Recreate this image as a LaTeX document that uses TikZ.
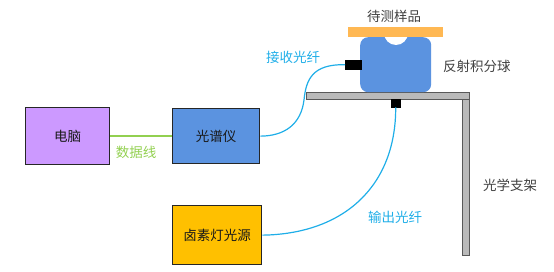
\documentclass[tikz,border=0pt]{standalone}
\usepackage{fontspec}
\setmainfont{Noto Sans CJK SC}
\begin{document}
\begin{tikzpicture}[x=1pt,y=-1pt,
  box/.style={draw=black!85,line width=1.3pt,inner sep=0pt,anchor=north west,font=\fontsize{13.5}{15}\selectfont,text=black!90},
  lbl/.style={font=\fontsize{13.5}{15}\selectfont,inner sep=0pt},
  fiber/.style={draw=fibc,line width=1.2pt},
  conn/.style={fill=black,draw=black,inner sep=0pt,anchor=north west}]
\definecolor{fibc}{HTML}{1FAEE8}
\definecolor{pc}{HTML}{CC99FF}
\definecolor{bc}{HTML}{5B93E0}
\definecolor{yc}{HTML}{FFC000}
\definecolor{oc}{HTML}{FFB853}
\definecolor{gc}{HTML}{92D050}
\definecolor{tc}{HTML}{404040}
\useasboundingbox (0,0) rectangle (554,272);
% boxes
\node[box,fill=pc,minimum width=84pt,minimum height=57pt] (pc) at (25,107) {电脑};
\node[box,fill=bc,minimum width=87pt,minimum height=55pt] (spec) at (172,108) {光谱仪};
\node[box,fill=yc,minimum width=89pt,minimum height=59pt] (lamp) at (172,205) {卤素灯光源};
% data line
\draw[gc,line width=1.5pt] (pc.east) -- (spec.west);
\node[lbl,text=gc] (dl) at (136,152) {数据线};
% table
\node[draw=black!65,fill=black!27,line width=0.8pt,inner sep=0pt,anchor=north west,minimum width=163pt,minimum height=7pt] (top) at (306,92) {};
\node[draw=black!65,fill=black!27,line width=0.8pt,inner sep=0pt,anchor=north west,minimum width=7pt,minimum height=156pt] (leg) at (462,99) {};
% sphere
\node[fill=bc,rounded corners=8pt,inner sep=0pt,anchor=north west,minimum width=71pt,minimum height=55pt] (sph) at (360,37) {};
\fill[white] (396,33) circle (12);
\node[fill=oc,inner sep=0pt,anchor=north west,minimum width=95pt,minimum height=10pt] (plate) at (348,27) {};
% connectors
\node[conn,minimum width=16pt,minimum height=9pt] (c1) at (345,60) {};
\node[conn,minimum width=9pt,minimum height=8pt] (c2) at (391,99) {};
% fibers
\draw[fiber] (c1.west) .. controls (312,64) and (306,80) .. (304,100) .. controls (301,124) and (285,136) .. (spec.east);
\draw[fiber] (c2.south) .. controls (396,185) and (345,234) .. (lamp.east);
% labels
\node[lbl,text=tc] (samp) at (394,16) {待测样品};
\node[lbl,text=tc,anchor=west] (sphl) at (443,66) {反射积分球};
\node[lbl,text=tc,anchor=west] (std) at (483,185) {光学支架};
\node[lbl,text=fibc] (rx) at (293,57) {接收光纤};
\node[lbl,text=fibc] (tx) at (395,217) {输出光纤};
\end{tikzpicture}
\end{document}
